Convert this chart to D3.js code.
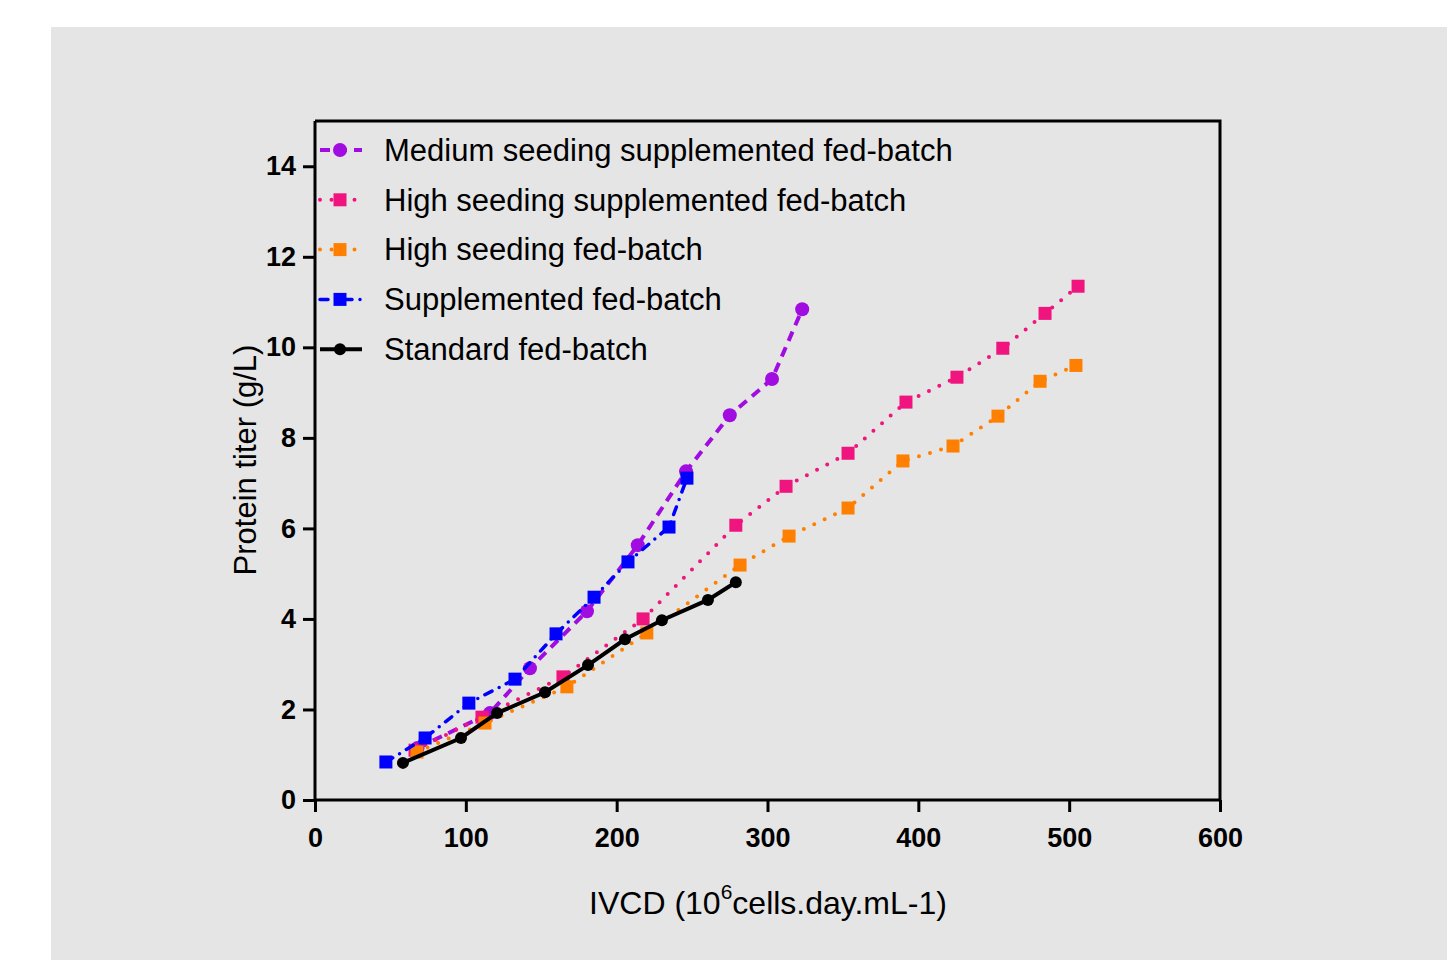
<!DOCTYPE html>
<html lang="en">
<head>
<meta charset="UTF-8">
<title>Protein titer vs IVCD</title>
<script src="https://d3js.org/d3.v7.min.js"></script>
<style>
  body { margin: 0; background: #fff; }
  svg { display: block; font-family: "Liberation Sans", Arial, sans-serif; }
</style>
</head>
<body>
<div id="chart"></div>
<script>
// series values (x = IVCD, y = titer g/L)
const mediumSuppX = [68, 116, 142.5, 180.3, 214, 246, 275, 303, 323];
const mediumSuppY = [1.15, 1.92, 2.91, 4.17, 5.63, 7.26, 8.5, 9.3, 10.84];

const highSuppX = [66.3, 110.7, 164.4, 217.5, 279, 312.3, 353.4, 391.8, 425.6, 456, 484, 505.9];
const highSuppY = [1.10, 1.83, 2.72, 4.0, 6.07, 6.93, 7.66, 8.79, 9.34, 9.98, 10.75, 11.35];

const highFbX = [67.6, 112.7, 167, 220, 281.8, 314.3, 353.4, 389.8, 423, 452.8, 480.7, 504.5];
const highFbY = [1.06, 1.70, 2.50, 3.69, 5.19, 5.83, 6.45, 7.49, 7.82, 8.48, 9.25, 9.60];

const suppX = [47, 73, 102, 132.6, 159.8, 185, 207.5, 234.7, 246.6];
const suppY = [0.84, 1.37, 2.14, 2.67, 3.67, 4.48, 5.26, 6.03, 7.11];

const stdX = [58.3, 96.8, 120.7, 152.5, 181, 205.5, 230, 260.5, 279];
const stdY = [0.82, 1.37, 1.92, 2.38, 2.98, 3.55, 3.97, 4.42, 4.81];

const xTicks = [0, 100, 200, 300, 400, 500, 600];
const yTicks = [0, 2, 4, 6, 8, 10, 12, 14];

const seriesNames = [
  "Medium seeding supplemented fed-batch",
  "High seeding supplemented fed-batch",
  "High seeding fed-batch",
  "Supplemented fed-batch",
  "Standard fed-batch"
];

// style per series, in drawing order
const series = [
  { name: seriesNames[0], xs: mediumSuppX, ys: mediumSuppY, color: "#a10ce0", shape: "circle", dash: "10,7", cap: "butt", width: 4 },
  { name: seriesNames[1], xs: highSuppX, ys: highSuppY, color: "#f0147f", shape: "square", dash: "0,11.5", cap: "round", width: 4 },
  { name: seriesNames[2], xs: highFbX, ys: highFbY, color: "#ff8000", shape: "square", dash: "0,11.5", cap: "round", width: 4 },
  { name: seriesNames[3], xs: suppX, ys: suppY, color: "#0000ff", shape: "square", dash: "8,8,0,8", cap: "round", width: 3.5 },
  { name: seriesNames[4], xs: stdX, ys: stdY, color: "#000000", shape: "dot", dash: null, cap: "butt", width: 4 }
];

const W = 1447, H = 960;
const plotLeft = 315, plotRight = 1220, plotTop = 121, plotBottom = 800;

const svg = d3.select("#chart").append("svg")
  .attr("width", W).attr("height", H);

svg.append("rect")
  .attr("x", 51).attr("y", 27)
  .attr("width", W - 51).attr("height", H - 27)
  .attr("fill", "#e5e5e5");

const x = d3.scaleLinear().domain([0, 600]).range([plotLeft, plotRight]);
const y = d3.scaleLinear().domain([0, 15]).range([plotBottom, plotTop]);

// frame top/right
svg.append("path")
  .attr("d", `M${plotLeft},${plotTop}H${plotRight}V${plotBottom}`)
  .attr("fill", "none").attr("stroke", "#000").attr("stroke-width", 3);

const xAxis = svg.append("g")
  .attr("transform", `translate(0,${plotBottom})`)
  .call(d3.axisBottom(x).tickValues(xTicks).tickSize(12).tickSizeOuter(0).tickPadding(16));

const yAxis = svg.append("g")
  .attr("transform", `translate(${plotLeft},0)`)
  .call(d3.axisLeft(y).tickValues(yTicks).tickSize(12).tickSizeOuter(0).tickPadding(7));

[xAxis, yAxis].forEach(g => {
  g.select(".domain").attr("stroke", "#000").attr("stroke-width", 3);
  g.selectAll(".tick line").attr("stroke", "#000").attr("stroke-width", 3);
  g.selectAll(".tick text")
    .attr("fill", "#000")
    .attr("font-size", 27)
    .attr("font-weight", "bold")
    .attr("font-family", "'Liberation Sans', Arial, sans-serif");
});
// make the y domain run to the top of the frame
yAxis.select(".domain").attr("d", `M0,${plotBottom}V${plotTop}`);
xAxis.select(".domain").attr("d", `M${plotLeft},0H${plotRight}`);

// axis titles
svg.append("text")
  .attr("x", 768).attr("y", 914)
  .attr("text-anchor", "middle")
  .attr("font-size", 32)
  .attr("fill", "#000")
  .call(t => {
    t.append("tspan").text("IVCD (10");
    t.append("tspan").attr("font-size", 21).attr("dy", -15).text("6");
    t.append("tspan").attr("dy", 15).text("cells.day.mL-1)");
  });

svg.append("text")
  .attr("transform", "translate(256,460) rotate(-90)")
  .attr("text-anchor", "middle")
  .attr("font-size", 31)
  .attr("fill", "#000")
  .text("Protein titer (g/L)");

function drawMarker(g, shape, color, cx, cy) {
  if (shape === "circle") {
    g.append("circle").attr("cx", cx).attr("cy", cy).attr("r", 7).attr("fill", color);
  } else if (shape === "dot") {
    g.append("circle").attr("cx", cx).attr("cy", cy).attr("r", 6).attr("fill", color);
  } else {
    g.append("rect").attr("x", cx - 6.5).attr("y", cy - 6.5)
      .attr("width", 13).attr("height", 13).attr("fill", color);
  }
}

const line = d3.line().x(d => x(d[0])).y(d => y(d[1]));

series.forEach(s => {
  const pts = s.xs.map((v, i) => [v, s.ys[i]]);
  const g = svg.append("g");
  g.append("path")
    .datum(pts)
    .attr("d", line)
    .attr("fill", "none")
    .attr("stroke", s.color)
    .attr("stroke-width", s.width)
    .attr("stroke-linecap", s.cap)
    .attr("stroke-dasharray", s.dash);
  pts.forEach(p => drawMarker(g, s.shape, s.color, x(p[0]), y(p[1])));
});

// legend
const legend = svg.append("g");
series.forEach((s, i) => {
  const ly = 150 + i * 49.8;
  const row = legend.append("g");
  row.append("line")
    .attr("x1", 320).attr("x2", 362)
    .attr("y1", ly).attr("y2", ly)
    .attr("stroke", s.color)
    .attr("stroke-width", s.width)
    .attr("stroke-linecap", s.cap)
    .attr("stroke-dasharray", s.dash);
  drawMarker(row, s.shape, s.color, 340, ly);
  row.append("text")
    .attr("x", 384).attr("y", ly)
    .attr("dy", "0.35em")
    .attr("font-size", 31)
    .attr("fill", "#000")
    .text(s.name);
});
</script>
</body>
</html>
